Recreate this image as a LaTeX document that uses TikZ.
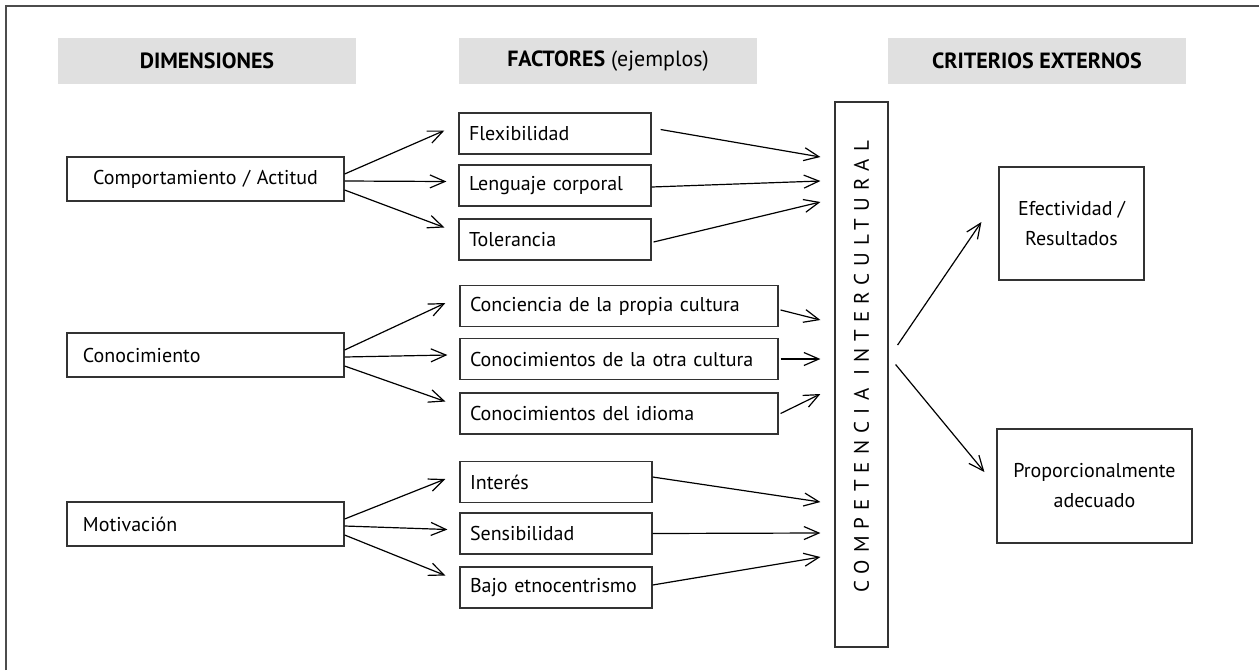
\documentclass[tikz,border=0pt]{standalone}
\usepackage{fontspec}
\setmainfont{PT Sans}
\newfontfamily\widefont[LetterSpace=34]{PT Sans}
\usepackage{graphicx}
\usetikzlibrary{arrows.meta}
\usetikzlibrary{calc}

\begin{document}
\begin{tikzpicture}[x=0.5pt,y=-0.5pt,
  every node/.style={font=\fontsize{10}{12}\selectfont},
  head/.style={fill=black!12,minimum width=149pt,minimum height=23pt,inner sep=0pt,font=\fontsize{11}{13}\selectfont},
  dimbox/.style={draw=black!80,line width=0.6pt,text width=122.5pt,inner xsep=8pt,minimum height=22pt,align=left},
  facbox/.style={draw=black!80,line width=0.6pt,text width=86pt,inner xsep=5pt,minimum height=20.5pt,align=left},
  widebox/.style={facbox,text width=149pt},
  critbox/.style={draw=black!80,line width=0.6pt,align=center,inner sep=0pt},
  arr/.style={line width=0.6pt,-{Straight Barb[length=7.5pt,width=6.5pt]}}]
 \useasboundingbox (0,0) rectangle (1259,670);
 \draw[black!70,line width=1pt](6,670)--(6,6)--(1259,6);

 \node[head] (dimh) at (207,61) {\textbf{DIMENSIONES}};
 \node[head] (facth) at (608,61) {\textbf{FACTORES} (ejemplos)};
 \node[head] (crith) at (1037,61) {\textbf{CRITERIOS EXTERNOS}};

 \node[dimbox,align=center] (comp) at (205.5,179) {Comportamiento / Actitud};
 \node[dimbox] (cono) at (205.5,355) {Conocimiento};
 \node[dimbox] (moti) at (205.5,524) {Motivación};

 \node[facbox] (flex) at (555,133.5) {Flexibilidad};
 \node[facbox] (leng) at (555,185.5) {Lenguaje corporal};
 \node[facbox] (tol) at (555,239.5) {Tolerancia};
 \node[widebox] (conc) at (619,306) {Conciencia de la propia cultura};
 \node[widebox] (otra) at (619,359) {Conocimientos de la otra cultura};
 \node[widebox] (idio) at (619,413.5) {Conocimientos del idioma};
 \node[facbox] (inte) at (556,482) {Interés};
 \node[facbox] (sens) at (556,533.5) {Sensibilidad};
 \node[facbox] (bajo) at (556,587.5) {\mbox{Bajo etnocentrismo}};

 \node[draw=black!80,line width=0.6pt,minimum width=26.5pt,minimum height=272.5pt,inner sep=0pt] (ci) at (861.5,374.5)
  {\rotatebox{90}{\hspace{7.5pt}\widefont\fontsize{10.5}{12}\selectfont COMPETENCIA INTERCULTURAL}};

 \node[critbox,minimum width=72.5pt,minimum height=56.5pt] (efec) at (1071.5,223.5) {Efectividad /\\[3pt]Resultados};
 \node[critbox,minimum width=97.5pt,minimum height=57pt] (prop) at (1094.5,486) {Proporcionalmente\\[3pt]adecuado};

 \foreach \d/\a/\b/\c in {comp/flex/leng/tol, cono/conc/otra/idio, moti/inte/sens/bajo} {
  \draw[arr] ([yshift=2.5pt]\d.east) -- ([xshift=-7pt,yshift=1.5pt]\a.west);
  \draw[arr] ([yshift=-1pt]\d.east) -- ([xshift=-6pt,yshift=2pt]\b.west);
  \draw[arr] ([yshift=-5.5pt]\d.east) -- ([xshift=-7pt,yshift=6pt]\c.west);
 }

 \foreach \n/\sx/\sy/\ty in {flex/4.5/2/157, leng/0/-0.75/181, tol/1/-1.25/202,
   conc/1/-2/320, otra/1/0/359, idio/1/0/394, inte/0/2.5/502, sens/0/0/533, bajo/0/1.25/557}
  \draw[arr] ([xshift=\sx pt,yshift=\sy pt]\n.east) -- ($(ci.west |- 0,\ty)+(-7pt,0)$);

 \draw[arr] ([xshift=4.5pt,yshift=14.75pt]ci.east) -- ([xshift=-8.5pt,yshift=0.75pt]efec.west);
 \draw[arr] ([xshift=3.5pt,yshift=5pt]ci.east) -- ([xshift=-6pt,yshift=7pt]prop.west);
\end{tikzpicture}
\end{document}
